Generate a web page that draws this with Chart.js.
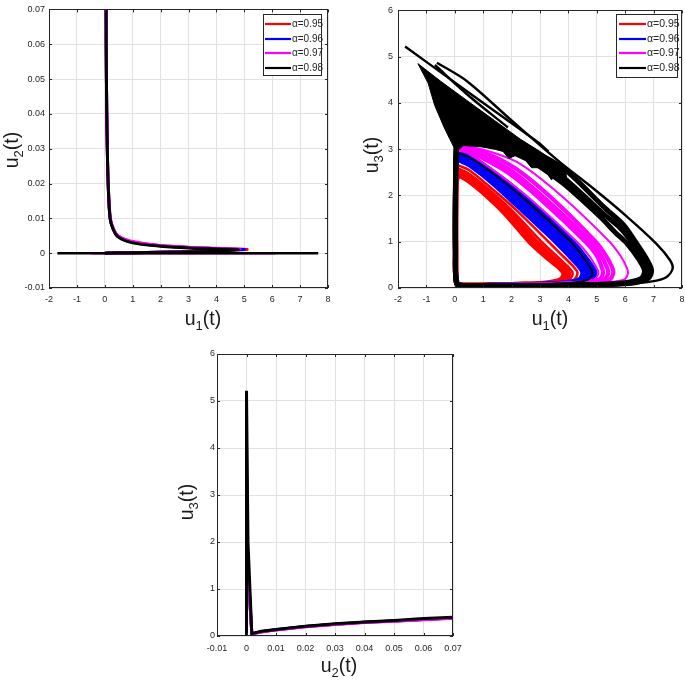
<!DOCTYPE html>
<html>
<head>
<meta charset="utf-8">
<script src="https://cdn.jsdelivr.net/npm/chart.js@4.4.1/dist/chart.umd.min.js"></script>
<style>
  html, body { margin: 0; padding: 0; background: #fff; width: 685px; height: 687px; overflow: hidden; }
  canvas { position: absolute; }
</style>
</head>
<body>
<canvas id="c1" width="345" height="345" style="left:0;top:0"></canvas>
<canvas id="c2" width="360" height="345" style="left:340px;top:0"></canvas>
<canvas id="c3" width="340" height="347" style="left:150px;top:340px"></canvas>
<script>
// ---- data ----
const alphas = ['0.95', '0.96', '0.97', '0.98'];

const u1Ticks = [-2, -1, 0, 1, 2, 3, 4, 5, 6, 7, 8];
const u2Ticks = [-0.01, 0, 0.01, 0.02, 0.03, 0.04, 0.05, 0.06, 0.07];
const u3Ticks = [0, 1, 2, 3, 4, 5, 6];

// (u1, u2) phase curves
const p1Red = [[0.04,0.09],[0.05,0.06],[0.07,0.04],[0.09,0.03],[0.12,0.02],[0.19,0.01],[0.3,0.007],[0.45,0.005],[0.8,0.0036],[1.26,0.0028],[2.0,0.0021],[3.0,0.0016],[4.0,0.0013],[5.1,0.0011],[4.2,0.0008],[3.0,0.0005],[1.5,0.0002],[0.4,0.0001],[0.0,0]];
const p1Blue = [[0.04,0.09],[0.05,0.06],[0.07,0.04],[0.09,0.03],[0.12,0.02],[0.19,0.01],[0.3,0.007],[0.45,0.005],[0.8,0.0036],[1.26,0.0028],[2.0,0.0021],[3.0,0.0016],[4.0,0.0013],[5.0,0.0011],[4.2,0.0008],[3.0,0.0005],[1.5,0.0002],[0.4,0.0001],[0.0,0]];
const p1Magenta = [[0.04,0.09],[0.05,0.06],[0.07,0.04],[0.09,0.03],[0.12,0.02],[0.2,0.01],[0.31,0.007],[0.47,0.005],[0.82,0.0037],[1.3,0.0029],[2.0,0.0022],[3.0,0.0017],[4.0,0.0014],[4.85,0.0011],[4.0,0.0007],[3.0,0.0005],[1.5,0.0002],[0.4,0.0001],[0.0,0]];
const p1Black = [[0.04,0.09],[0.05,0.06],[0.07,0.04],[0.09,0.03],[0.12,0.02],[0.19,0.01],[0.3,0.0068],[0.45,0.0048],[0.8,0.0034],[1.26,0.0026],[2.0,0.002],[3.0,0.0015],[4.0,0.0012],[4.8,0.001],[4.0,0.0006],[3.0,0.0004],[1.5,0.0002],[0.4,0.0001],[0.0,0]];
const p1ZeroMagenta = [[-0.5,0],[6.1,0]];
const p1ZeroBlack = [[-1.7,0],[7.65,0]];

// (u1, u3) loops
const u1u3Red = [
  [[0.15,2.45],[0.5,2.32],[1.0,2.07],[1.8,1.6],[2.65,1.0],[3.3,0.64],[3.7,0.44],[3.85,0.31],[3.74,0.18],[3.3,0.11],[2.2,0.075],[1.0,0.06],[0.3,0.06],[0.07,0.1],[0.03,0.8],[0.03,1.8],[0.06,2.35],[0.15,2.45]],
  [[0.14,2.52],[0.5,2.4],[1.1,2.1],[1.9,1.65],[2.85,1.0],[3.45,0.65],[3.85,0.44],[4.0,0.31],[3.88,0.18],[3.4,0.11],[2.3,0.075],[1.0,0.06],[0.3,0.06],[0.07,0.1],[0.03,0.8],[0.03,1.8],[0.06,2.42],[0.14,2.52]],
  [[0.13,2.58],[0.5,2.47],[1.2,2.13],[2.0,1.68],[3.05,1.0],[3.62,0.67],[4.0,0.45],[4.15,0.32],[4.03,0.18],[3.5,0.11],[2.4,0.075],[1.0,0.06],[0.3,0.06],[0.07,0.1],[0.03,0.8],[0.03,1.8],[0.06,2.48],[0.13,2.58]],
  [[0.12,2.65],[0.5,2.55],[1.3,2.15],[2.1,1.72],[3.3,1.0],[3.82,0.68],[4.18,0.46],[4.32,0.33],[4.2,0.18],[3.6,0.11],[2.5,0.075],[1.0,0.06],[0.3,0.06],[0.07,0.1],[0.03,0.8],[0.03,1.8],[0.06,2.55],[0.12,2.65]]
];
const u1u3Blue = [
  [[0.1,2.78],[0.5,2.66],[1.3,2.28],[2.3,1.72],[3.55,1.0],[4.05,0.68],[4.38,0.46],[4.5,0.33],[4.38,0.18],[3.8,0.11],[2.6,0.075],[1.0,0.06],[0.3,0.06],[0.07,0.1],[0.03,0.8],[0.03,1.8],[0.05,2.68],[0.1,2.78]],
  [[0.1,2.84],[0.5,2.73],[1.4,2.32],[2.4,1.78],[3.75,1.0],[4.22,0.68],[4.53,0.46],[4.65,0.33],[4.52,0.18],[3.9,0.11],[2.6,0.075],[1.0,0.06],[0.3,0.06],[0.07,0.1],[0.03,0.8],[0.03,1.8],[0.05,2.74],[0.1,2.84]],
  [[0.1,2.9],[0.5,2.8],[1.5,2.36],[2.5,1.84],[3.95,1.0],[4.4,0.68],[4.68,0.46],[4.8,0.33],[4.66,0.18],[4.0,0.11],[2.7,0.075],[1.0,0.06],[0.3,0.06],[0.07,0.1],[0.03,0.8],[0.03,1.8],[0.05,2.8],[0.1,2.9]],
  [[0.12,2.96],[0.5,2.87],[1.6,2.4],[2.6,1.9],[4.15,1.0],[4.58,0.68],[4.84,0.46],[4.95,0.33],[4.8,0.18],[4.1,0.11],[2.8,0.075],[1.0,0.06],[0.3,0.06],[0.07,0.1],[0.03,0.8],[0.03,1.8],[0.05,2.86],[0.12,2.96]]
];
const u1u3Magenta = [
  [[0.15,3.0],[0.6,2.92],[1.85,2.5],[3.05,1.9],[4.6,1.0],[5.0,0.7],[5.16,0.47],[5.22,0.33],[5.07,0.18],[4.3,0.11],[2.8,0.075],[1.0,0.06],[0.3,0.06],[0.07,0.1],[0.03,0.8],[0.03,1.8],[0.05,2.9],[0.15,3.0]],
  [[0.18,3.04],[0.7,2.96],[1.95,2.55],[3.2,1.92],[4.78,1.0],[5.15,0.7],[5.34,0.47],[5.4,0.33],[5.25,0.18],[4.5,0.11],[2.9,0.075],[1.0,0.06],[0.3,0.06],[0.07,0.1],[0.03,0.8],[0.03,1.8],[0.05,2.94],[0.18,3.04]],
  [[0.2,3.05],[0.8,2.99],[2.1,2.6],[3.4,1.95],[4.96,1.0],[5.32,0.7],[5.52,0.47],[5.58,0.33],[5.43,0.18],[4.6,0.11],[3.0,0.075],[1.0,0.06],[0.3,0.06],[0.07,0.1],[0.03,0.8],[0.03,1.8],[0.05,2.95],[0.2,3.05]],
  [[0.25,3.05],[1.0,2.99],[2.2,2.72],[3.7,2.02],[5.45,1.0],[5.85,0.68],[6.04,0.46],[6.1,0.33],[5.95,0.18],[5.0,0.11],[3.2,0.075],[1.0,0.06],[0.3,0.06],[0.07,0.1],[0.03,0.8],[0.03,1.8],[0.05,2.95],[0.25,3.05]],
  [[0.12,2.98],[0.5,2.9],[1.6,2.44],[2.7,1.9],[4.3,1.0],[4.75,0.68],[4.97,0.46],[5.06,0.33],[4.9,0.18],[4.2,0.11],[2.8,0.075],[1.0,0.06],[0.3,0.06],[0.07,0.1],[0.03,0.8],[0.03,1.8],[0.05,2.88],[0.12,2.98]]
];
const u1u3Black = [
  [[0.1,2.92],[0.5,2.83],[1.55,2.38],[2.55,1.87],[4.08,1.0],[4.5,0.68],[4.75,0.46],[4.85,0.33],[4.7,0.18],[4.05,0.11],[2.7,0.075],[1.0,0.06],[0.3,0.06],[0.07,0.1],[0.03,0.8],[0.03,1.8],[0.05,2.82],[0.1,2.92]],
  [[0.1,3.3],[1.0,3.3],[2.2,2.95],[3.1,2.58],[3.9,2.22],[5.1,1.55],[5.65,1.2],[6.08,0.95],[6.5,0.6],[6.68,0.37],[6.55,0.2],[5.9,0.11],[4.5,0.07],[2.0,0.055],[0.3,0.055],[0.07,0.1],[0.02,0.8],[0.02,2.0],[0.04,2.95],[0.1,3.3]],
  [[0.3,3.4],[1.7,3.15],[2.8,2.8],[3.8,2.4],[5.2,1.62],[5.82,1.3],[6.22,1.0],[6.64,0.6],[6.81,0.37],[6.68,0.19],[6.0,0.1],[4.6,0.065],[2.0,0.05],[0.3,0.05],[0.06,0.1],[0.02,0.8],[0.02,2.0],[0.05,3.1]],
  [[0.8,3.5],[1.9,3.2],[3.0,2.88],[3.9,2.55],[5.3,1.72],[5.95,1.36],[6.36,1.0],[6.78,0.6],[6.93,0.38],[6.8,0.2],[6.2,0.1],[4.7,0.065],[2.0,0.05],[0.3,0.05],[0.06,0.1],[0.02,0.8],[0.02,2.0],[0.05,3.0]],
  [[-0.63,4.87],[0.43,4.47],[2.0,3.62],[3.7,2.72],[4.88,2.15],[6.05,1.55],[7.11,0.95],[7.58,0.6],[7.67,0.42],[7.46,0.24],[7.0,0.15],[6.0,0.09],[4.0,0.06],[2.0,0.05],[0.3,0.05],[0.06,0.1],[0.02,0.8],[0.02,2.0]],
  [[-1.75,5.22],[0.5,4.22],[2.93,3.15],[3.3,2.95]],
  [[-0.7,4.82],[0.5,4.15],[1.87,3.47]]
];
// dense transient cloud of the 0.98 orbit (outline)
const u1u3BlackCloud = [[-1.3,4.85],[-0.5,4.47],[0.5,4.02],[1.4,3.62],[2.3,3.22],[3.0,2.95],[3.9,2.57],[3.95,2.3],[3.55,2.42],[3.4,2.34],[3.2,2.52],[2.94,2.6],[2.7,2.6],[2.5,2.75],[2.12,2.86],[1.9,2.8],[1.7,2.95],[1.4,3.0],[0.95,3.05],[0.3,3.08],[0.05,2.94],[-0.12,3.15],[-0.36,3.45],[-0.71,3.95],[-0.94,4.43],[-1.3,4.85]];

// (u2, u3) phase curves
const p3Red = [[0,0],[0,3.0],[0.0004,1.5],[0.0018,0.05],[0.005,0.09],[0.01,0.135],[0.02,0.2],[0.03,0.25],[0.04,0.29],[0.05,0.32],[0.06,0.35],[0.07,0.385],[0.075,0.4]];
const p3Blue = [[0,0],[0,3.5],[0.0004,1.5],[0.0018,0.05],[0.005,0.09],[0.01,0.135],[0.02,0.2],[0.03,0.25],[0.04,0.29],[0.05,0.32],[0.06,0.35],[0.07,0.385],[0.075,0.4]];
const p3Magenta = [[0,0],[0,4.1],[0.0004,1.5],[0.0018,0.04],[0.005,0.085],[0.01,0.13],[0.02,0.195],[0.03,0.245],[0.04,0.285],[0.05,0.315],[0.06,0.345],[0.07,0.38],[0.075,0.395]];
const p3Black = [[0,0],[0,5.22],[0.0005,2.0],[0.0018,0.05],[0.005,0.1],[0.01,0.14],[0.02,0.21],[0.03,0.26],[0.04,0.3],[0.05,0.33],[0.06,0.37],[0.07,0.4],[0.075,0.42]];

// ---- styles ----
const RED = '#ff0000', BLUE = '#0000ff', MAG = '#ff00ff', BLK = '#000000';
const seriesColors = [RED, BLUE, MAG, BLK];
const TXT = '#262626';
const tickFont = {family: '"Liberation Sans", Arial, sans-serif', size: 9};
const tickFont3 = {family: '"Liberation Sans Narrow", "Liberation Sans", Arial, sans-serif', size: 9};

function line(pts, color, width, order, tension) {
  return {
    data: pts.map(p => ({x: p[0], y: p[1]})),
    showLine: true, borderColor: color, backgroundColor: color,
    borderWidth: width, pointRadius: 0, fill: false,
    tension: tension, order: order, clip: 0
  };
}

function axis(min, max, ticksArr, fitFn, font, pad) {
  return {
    type: 'linear', min: min, max: max,
    afterBuildTicks: s => { s.ticks = ticksArr.map(v => ({value: v})); },
    afterFit: fitFn,
    grid: {color: '#e2e2e2', lineWidth: 1, drawTicks: false},
    border: {display: false},
    ticks: {autoSkip: false, maxRotation: 0, color: TXT, font: font, padding: pad, callback: v => String(v)}
  };
}

const framePlugin = {
  id: 'frame',
  afterDraw(chart) {
    const {ctx, chartArea: a} = chart;
    const x = chart.scales.x, y = chart.scales.y;
    ctx.save();
    ctx.strokeStyle = TXT;
    ctx.lineWidth = 1;
    ctx.strokeRect(Math.round(a.left) + 0.5, Math.round(a.top) + 0.5, Math.round(a.width) - 1, Math.round(a.height) - 1);
    ctx.beginPath();
    x.ticks.forEach(t => {
      const px = Math.round(x.getPixelForValue(t.value)) + 0.5;
      ctx.moveTo(px, a.bottom); ctx.lineTo(px, a.bottom - 3);
      ctx.moveTo(px, a.top); ctx.lineTo(px, a.top + 3);
    });
    y.ticks.forEach(t => {
      const py = Math.round(y.getPixelForValue(t.value)) + 0.5;
      ctx.moveTo(a.left, py); ctx.lineTo(a.left + 3, py);
      ctx.moveTo(a.right, py); ctx.lineTo(a.right - 3, py);
    });
    ctx.stroke();
    ctx.restore();
  }
};

const legendPlugin = {
  id: 'alphaLegend',
  afterDraw(chart, args, o) {
    if (!o || !o.box) return;
    const ctx = chart.ctx;
    const b = o.box;
    ctx.save();
    ctx.fillStyle = '#fff';
    ctx.fillRect(b[0], b[1], b[2], b[3]);
    ctx.strokeStyle = TXT;
    ctx.lineWidth = 1;
    ctx.strokeRect(b[0] + 0.5, b[1] + 0.5, b[2], b[3]);
    ctx.font = o.font;
    ctx.textBaseline = 'middle';
    alphas.forEach((a, i) => {
      const ry = o.rows[i];
      ctx.strokeStyle = seriesColors[i];
      ctx.lineWidth = 2.2;
      ctx.beginPath();
      ctx.moveTo(o.line[0], ry); ctx.lineTo(o.line[1], ry);
      ctx.stroke();
      ctx.fillStyle = TXT;
      ctx.fillText('\u03b1=' + a, o.textX, ry + 0.5);
    });
    ctx.restore();
  }
};

const titlePlugin = {
  id: 'uTitles',
  afterDraw(chart, args, o) {
    const ctx = chart.ctx;
    (o.items || []).forEach(it => {
      const big = '19.5px "Liberation Sans", Arial, sans-serif';
      const small = '13px "Liberation Sans", Arial, sans-serif';
      ctx.save();
      ctx.translate(it.cx, it.cy);
      if (it.rot) ctx.rotate(-Math.PI / 2);
      ctx.fillStyle = '#1a1a1a';
      ctx.textBaseline = 'alphabetic';
      ctx.font = big;
      const wu = ctx.measureText('u').width, wr = ctx.measureText('(t)').width;
      ctx.font = small;
      const ws = ctx.measureText(it.sub).width;
      let x = -(wu + ws + wr) / 2;
      const base = 4;
      ctx.font = big; ctx.fillText('u', x, base); x += wu;
      ctx.font = small; ctx.fillText(it.sub, x, base + 5); x += ws;
      ctx.font = big; ctx.fillText('(t)', x, base);
      ctx.restore();
    });
  }
};

const common = {
  responsive: false,
  animation: false,
  events: []
};

// ---- chart 1: u1 vs u2 ----
const ds1 = [
  line(p1ZeroBlack, BLK, 2.6, 1, 0),
  line(p1Black, BLK, 3, 1, 0.3),
  line(p1ZeroMagenta, MAG, 2.4, 2, 0),
  line(p1Magenta, MAG, 3, 2, 0.3),
  line(p1Blue, BLUE, 3, 3, 0.3),
  line(p1Red, RED, 3, 4, 0.3)
];
new Chart(document.getElementById('c1'), {
  type: 'scatter',
  data: {datasets: ds1},
  options: Object.assign({}, common, {
    layout: {padding: {left: 0, top: 6, right: 17, bottom: 0}},
    plugins: {
      legend: {display: false}, tooltip: {enabled: false},
      alphaLegend: {box: [263, 14, 58, 61], rows: [24, 39, 53, 68], line: [265, 291], textX: 292, font: '10px "Liberation Sans", Arial, sans-serif'},
      uTitles: {items: [{sub: '1', cx: 203, cy: 321}, {sub: '2', cx: 14, cy: 150, rot: true}]}
    },
    scales: {
      x: axis(-2, 8, u1Ticks, s => { s.height = 57; }, tickFont, 6),
      y: axis(-0.01, 0.07, u2Ticks, s => { s.width = 49; }, tickFont, 4)
    }
  }),
  plugins: [framePlugin, legendPlugin, titlePlugin]
});

// ---- chart 2: u1 vs u3 ----
const ds2 = [];
ds2.push(Object.assign(line(u1u3BlackCloud, BLK, 1, 1, 0), {fill: 'shape'}));
u1u3Black.forEach((l, i) => ds2.push(line(l, BLK, i === 0 ? 1.8 : (i >= 4 ? 2.4 : 5), 1, 0.3)));
u1u3Magenta.forEach((l, i) => ds2.push(line(l, MAG, i >= 3 ? 2 : 4.2, 2, 0.3)));
u1u3Blue.forEach(l => ds2.push(line(l, BLUE, 4.6, 3, 0.3)));
u1u3Red.forEach((l, i) => ds2.push(line(l, RED, i < 2 ? 5.6 : 2.6, 4, 0.3)));
new Chart(document.getElementById('c2'), {
  type: 'scatter',
  data: {datasets: ds2},
  options: Object.assign({}, common, {
    layout: {padding: {left: 0, top: 6, right: 18, bottom: 0}},
    plugins: {
      legend: {display: false}, tooltip: {enabled: false},
      alphaLegend: {box: [276, 14, 61, 63], rows: [24, 39, 53, 68], line: [279, 306], textX: 307, font: '10.5px "Liberation Sans", Arial, sans-serif'},
      uTitles: {items: [{sub: '1', cx: 210, cy: 321}, {sub: '3', cx: 34, cy: 155, rot: true}]}
    },
    scales: {
      x: axis(-2, 8, u1Ticks, s => { s.height = 57; }, tickFont, 6),
      y: axis(0, 6, u3Ticks, s => { s.width = 58; }, tickFont, 5)
    }
  }),
  plugins: [framePlugin, legendPlugin, titlePlugin]
});

// ---- chart 3: u2 vs u3 ----
const ds3 = [
  line(p3Black, BLK, 3, 1, 0),
  line(p3Magenta, MAG, 3, 2, 0),
  line(p3Blue, BLUE, 3, 3, 0),
  line(p3Red, RED, 3, 4, 0)
];
new Chart(document.getElementById('c3'), {
  type: 'scatter',
  data: {datasets: ds3},
  options: Object.assign({}, common, {
    layout: {padding: {left: 0, top: 14, right: 37, bottom: 0}},
    plugins: {
      legend: {display: false}, tooltip: {enabled: false},
      uTitles: {items: [{sub: '2', cx: 189, cy: 328}, {sub: '3', cx: 39, cy: 162, rot: true}]}
    },
    scales: {
      x: axis(-0.01, 0.07, u2Ticks, s => { s.height = 51; }, tickFont3, 7),
      y: axis(0, 6, u3Ticks, s => { s.width = 67; }, tickFont3, 2)
    }
  }),
  plugins: [framePlugin, titlePlugin]
});
</script>
</body>
</html>
